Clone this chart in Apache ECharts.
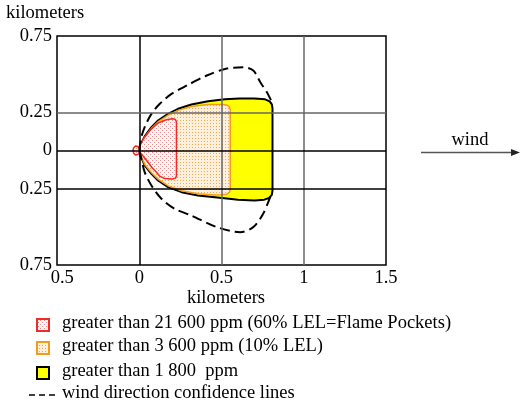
<!DOCTYPE html>
<html><head><meta charset="utf-8">
<script src="https://cdn.jsdelivr.net/npm/echarts@6/dist/echarts.min.js"></script>
<style>html,body{margin:0;padding:0;background:#fff}#c{width:520px;height:409px}</style>
</head><body><div id="c"></div>
<script>
const xTicks = [-0.5, 0, 0.5, 1, 1.5];
const xTickLabels = ['0.5', '0', '0.5', '1', '1.5'];
const yTicks = [-0.75, -0.25, 0, 0.25, 0.75];
const yTickLabels = ['0.75', '0.25', '0', '0.25', '0.75'];
const xGridLines = [0, 0.5, 1];
const yGridLines = [0.25, 0, -0.25];

const yellowZone = [
  [0, 0], [0.012, 0.045], [0.033, 0.092], [0.074, 0.153], [0.114, 0.196], [0.175, 0.240],
  [0.236, 0.273], [0.317, 0.301], [0.418, 0.323], [0.52, 0.335], [0.61, 0.34], [0.7, 0.34],
  [0.765, 0.335], [0.793, 0.322], [0.806, 0.302], [0.81, 0.275],
  [0.81, -0.262], [0.806, -0.29], [0.79, -0.311], [0.76, -0.322], [0.7, -0.327], [0.6, -0.322],
  [0.56, -0.317], [0.459, -0.306], [0.357, -0.295], [0.257, -0.273], [0.175, -0.240],
  [0.114, -0.196], [0.074, -0.153], [0.033, -0.098], [0.012, -0.045]
];
const orangeZone = [
  [0.004, 0], [0.014, 0.043], [0.035, 0.088], [0.076, 0.147], [0.116, 0.189], [0.176, 0.232],
  [0.236, 0.263], [0.317, 0.288], [0.418, 0.302], [0.5, 0.302], [0.533, 0.298], [0.548, 0.286],
  [0.553, 0.265],
  [0.553, -0.255], [0.548, -0.275], [0.532, -0.286], [0.5, -0.29], [0.459, -0.292],
  [0.357, -0.284], [0.257, -0.264], [0.176, -0.232], [0.116, -0.189], [0.076, -0.147],
  [0.035, -0.094], [0.014, -0.043]
];
const redZone = [
  [0.002, 0.012], [0.009, 0.045], [0.033, 0.087], [0.074, 0.142], [0.114, 0.179],
  [0.16, 0.2], [0.2, 0.208], [0.218, 0.204], [0.226, 0.19],
  [0.226, -0.168], [0.22, -0.181], [0.2, -0.186], [0.155, -0.184], [0.125, -0.168],
  [0.105, -0.142], [0.076, -0.11], [0.053, -0.077], [0.013, -0.022], [0.002, -0.012],
  [-0.008, -0.026], [-0.022, -0.03], [-0.034, -0.018], [-0.038, 0], [-0.034, 0.018],
  [-0.022, 0.03], [-0.008, 0.026]
];
const upperConfidence = [
  [0, 0], [0.013, 0.087], [0.033, 0.153], [0.074, 0.24], [0.125, 0.306], [0.196, 0.371],
  [0.29, 0.426], [0.41, 0.491], [0.533, 0.537], [0.632, 0.545], [0.693, 0.524],
  [0.736, 0.447], [0.776, 0.382], [0.807, 0.316]
];
const lowerConfidence = [
  [0, 0], [0.013, -0.054], [0.033, -0.142], [0.074, -0.229], [0.135, -0.316], [0.216, -0.382],
  [0.317, -0.426], [0.472, -0.502], [0.614, -0.535], [0.693, -0.502], [0.754, -0.413],
  [0.807, -0.273]
];
const legendLabels = [
  'greater than 21 600 ppm (60% LEL=Flame Pockets)',
  'greater than 3 600 ppm (10% LEL)',
  'greater than 1 800  ppm',
  'wind direction confidence lines'
];

const FONT = '"Liberation Serif", "Times New Roman", serif';
const FS = 18.5;
const F = FS + 'px ' + FONT;

function dotPattern(bg, dot, step, dots) {
  const c = document.createElement('canvas');
  c.width = step; c.height = step;
  const g = c.getContext('2d');
  g.fillStyle = bg; g.fillRect(0, 0, step, step);
  g.fillStyle = dot;
  dots.forEach(d => g.fillRect(d[0], d[1], 1, 1));
  return { image: c, repeat: 'repeat' };
}
const redFill = dotPattern('#fef7f7', '#ef8a8a', 4, [[0, 0], [2, 2]]);
const orangeFill = dotPattern('#fff0dc', '#f4a851', 3, [[0, 0]]);
const yellowFill = '#ffff00';

function zoneSeries(name, pts, fill, stroke, lw, z) {
  return {
    type: 'custom', name, z, silent: true, data: [[0, 0]],
    renderItem: (params, api) => ({
      type: 'polygon',
      shape: { points: pts.map(p => api.coord(p)) },
      style: { fill, stroke, lineWidth: lw, lineJoin: 'round' }
    })
  };
}

function findIdx(arr, v) { return arr.findIndex(t => Math.abs(t - v) < 1e-9); }

const grayLine = { color: '#666', width: 1.5, type: 'solid' };
const blackLine = { color: '#000', width: 1.5, type: 'solid' };
const gridMarks = [];
xGridLines.forEach(v => gridMarks.push({ xAxis: v, lineStyle: v === 0 ? blackLine : grayLine }));
yGridLines.forEach(v => gridMarks.push({ yAxis: v, lineStyle: v === 0.25 ? grayLine : blackLine }));

const chart = echarts.init(document.getElementById('c'), null, { renderer: 'canvas' });
const option = {
  animation: false,
  backgroundColor: '#fff',
  grid: { left: 57, top: 36, width: 329, height: 229, show: true, borderColor: '#000', borderWidth: 1.5, backgroundColor: 'transparent' },
  xAxis: {
    type: 'value', min: -0.5, max: 1.5, interval: 0.5,
    axisLine: { show: false }, axisTick: { show: false }, splitLine: { show: false },
    axisLabel: {
      margin: 4, color: '#000', fontFamily: FONT, fontSize: FS,
      formatter: v => { const i = findIdx(xTicks, v); if (i < 0) return ''; return v < 0 ? '{h|\u2212}' + xTickLabels[i] : xTickLabels[i]; },
      rich: { h: { color: 'rgba(0,0,0,0)', fontFamily: FONT, fontSize: FS } }
    }
  },
  yAxis: {
    type: 'value', min: -0.75, max: 0.75, interval: 0.25,
    axisLine: { show: false }, axisTick: { show: false }, splitLine: { show: false },
    axisLabel: {
      margin: 5, color: '#000', fontFamily: FONT, fontSize: FS,
      formatter: v => { const i = findIdx(yTicks, v); return i < 0 ? '' : yTickLabels[i]; }
    }
  },
  series: [
    zoneSeries('greater than 1 800 ppm', yellowZone, yellowFill, '#000', 2, 1),
    zoneSeries('greater than 3 600 ppm', orangeZone, orangeFill, '#f59a1c', 1.5, 2),
    zoneSeries('greater than 21 600 ppm', redZone, redFill, '#ee2a2a', 1.5, 3),
    { type: 'line', name: 'upper', data: upperConfidence, smooth: 0.3, symbol: 'none', z: 4, silent: true,
      lineStyle: { color: '#000', width: 2, type: [10, 5] } },
    { type: 'line', name: 'lower', data: lowerConfidence, smooth: 0.3, symbol: 'none', z: 4, silent: true,
      lineStyle: { color: '#000', width: 2, type: [10, 5] } },
    { type: 'line', name: 'gridlines', data: [], z: 10, silent: true,
      markLine: { symbol: ['none', 'none'], silent: true, animation: false, label: { show: false }, data: gridMarks } }
  ],
  graphic: [
    { type: 'text', left: 6, top: 4, style: { text: 'kilometers', font: F, fill: '#000' } },
    { type: 'text', x: 226, y: 298, style: { text: 'kilometers', font: F, fill: '#000', align: 'center', verticalAlign: 'middle' } },
    { type: 'text', x: 470, y: 140, style: { text: 'wind', font: F, fill: '#000', align: 'center', verticalAlign: 'middle' } },
    { type: 'line', shape: { x1: 421, y1: 152.5, x2: 513, y2: 152.5 }, style: { stroke: '#555', lineWidth: 1.5 } },
    { type: 'polygon', shape: { points: [[520, 152.5], [511, 149], [511, 156]] }, style: { fill: '#222' } },
    { type: 'rect', shape: { x: 37, y: 319, width: 12, height: 12 }, style: { fill: redFill, stroke: '#ee2a2a', lineWidth: 2 } },
    { type: 'rect', shape: { x: 37, y: 342, width: 12, height: 12 }, style: { fill: orangeFill, stroke: '#f59a1c', lineWidth: 2 } },
    { type: 'rect', shape: { x: 37, y: 367, width: 12, height: 12 }, style: { fill: yellowFill, stroke: '#000', lineWidth: 2 } },
    { type: 'line', shape: { x1: 29, y1: 395, x2: 57, y2: 395 }, style: { stroke: '#000', lineWidth: 1.5, lineDash: [6, 4] } },
    { type: 'text', x: 62, y: 323, style: { text: legendLabels[0], font: F, fill: '#000', verticalAlign: 'middle' } },
    { type: 'text', x: 62, y: 346, style: { text: legendLabels[1], font: F, fill: '#000', verticalAlign: 'middle' } },
    { type: 'text', x: 62, y: 371, style: { text: legendLabels[2], font: F, fill: '#000', verticalAlign: 'middle' } },
    { type: 'text', x: 62, y: 393.5, style: { text: legendLabels[3], font: F, fill: '#000', verticalAlign: 'middle' } }
  ]
};
chart.setOption(option);
</script></body></html>
